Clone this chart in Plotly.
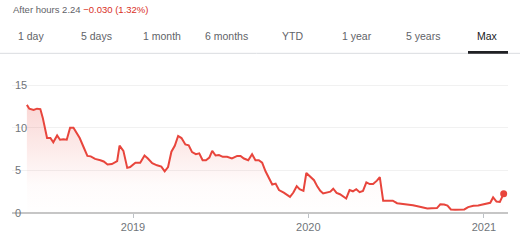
import plotly.graph_objects as go

# ---- data ----
DATES = [
    "2018-05-25", "2018-05-30", "2018-06-08", "2018-06-15", "2018-06-22", "2018-06-27",
    "2018-07-06", "2018-07-13", "2018-07-19", "2018-07-27", "2018-08-02", "2018-08-09",
    "2018-08-16", "2018-08-23", "2018-08-30", "2018-09-12", "2018-09-20", "2018-09-28",
    "2018-10-05", "2018-10-14", "2018-10-25", "2018-11-01", "2018-11-09", "2018-11-18",
    "2018-11-29", "2018-12-04", "2018-12-12", "2018-12-20", "2018-12-26",
    "2019-01-06", "2019-01-16", "2019-01-25", "2019-02-01", "2019-02-10", "2019-02-20",
    "2019-03-01", "2019-03-08", "2019-03-15", "2019-03-22", "2019-03-29", "2019-04-05",
    "2019-04-12", "2019-04-20", "2019-04-27", "2019-05-04", "2019-05-12", "2019-05-19",
    "2019-05-26", "2019-06-02", "2019-06-09", "2019-06-15", "2019-06-22", "2019-06-29",
    "2019-07-07", "2019-07-16", "2019-07-26", "2019-08-06", "2019-08-13", "2019-08-20",
    "2019-08-29", "2019-09-06", "2019-09-13", "2019-09-20", "2019-09-27", "2019-10-04",
    "2019-10-11", "2019-10-18", "2019-10-25", "2019-11-01", "2019-11-11", "2019-11-24",
    "2019-12-01", "2019-12-08", "2019-12-14", "2019-12-22", "2019-12-28",
    "2020-01-04", "2020-01-13", "2020-01-20", "2020-01-26", "2020-02-01", "2020-02-09",
    "2020-02-16", "2020-02-22", "2020-02-29", "2020-03-07", "2020-03-14", "2020-03-20",
    "2020-03-27", "2020-04-03", "2020-04-10", "2020-04-17", "2020-04-24", "2020-05-01",
    "2020-05-08", "2020-05-15", "2020-05-23", "2020-05-29", "2020-06-05", "2020-06-13",
    "2020-06-25", "2020-07-04", "2020-07-14", "2020-07-24", "2020-08-06", "2020-08-18",
    "2020-08-28", "2020-09-05", "2020-09-14", "2020-09-25", "2020-10-02", "2020-10-10",
    "2020-10-17", "2020-10-24", "2020-11-02", "2020-11-12", "2020-11-21", "2020-11-29",
    "2020-12-10", "2020-12-20", "2020-12-29", "2021-01-07", "2021-01-14", "2021-01-20",
    "2021-01-27", "2021-02-03", "2021-02-11",
]
PRICES = [
    12.7, 12.25, 12.1, 12.25, 12.2, 11.2,
    8.8, 8.8, 8.3, 9.1, 8.6, 8.65,
    8.6, 10.0, 10.0, 8.8, 7.75, 6.7,
    6.65, 6.35, 6.2, 6.05, 5.7, 5.75,
    6.1, 7.9, 7.3, 5.3, 5.4,
    5.9, 5.9, 6.75, 6.4, 5.85, 5.6,
    5.45, 4.9, 5.4, 7.2, 7.9, 9.05,
    8.8, 8.05, 7.95, 7.15, 6.9, 7.0,
    6.2, 6.2, 6.5, 7.3, 6.75, 6.8,
    6.6, 6.6, 6.4, 6.7, 6.7, 6.4,
    6.2, 6.9, 6.2, 6.2, 5.9, 4.9,
    4.1, 3.35, 3.45, 2.7, 2.4, 1.9,
    2.4, 3.15, 2.8, 2.6, 4.7,
    4.3, 3.85, 3.1, 2.6, 2.3, 2.4,
    2.5, 2.85, 2.35, 2.2, 1.9, 1.7,
    2.7, 2.55, 2.8, 2.45, 2.6, 3.6,
    3.4, 3.4, 3.8, 4.2, 1.45, 1.45,
    1.45, 1.15, 1.07, 1.07, 0.92, 0.77,
    0.6, 0.53, 0.57, 0.58, 1.03, 1.0,
    0.88, 0.42, 0.38, 0.38, 0.42, 0.69,
    0.84, 0.88, 1.0, 1.1, 1.2, 1.83,
    1.34, 1.3, 2.27,
]
Y_TICKS = [0, 5, 10, 15]
TABS = ["1 day", "5 days", "1 month", "6 months", "YTD", "1 year", "5 years", "Max"]
ACTIVE_TAB = "Max"
HEADER_PREFIX = "After hours 2.24 "
HEADER_CHANGE = "\u22120.030 (1.32%)"

# ---- styling ----
RED = "#e8453c"
GRAY_TXT = "#70757a"
FONT = "Arial, 'Liberation Sans', sans-serif"
W, H = 520, 245
L, R, T, B = 12, 508, 81, 217


def px(x):
    return (x - L) / (R - L)


def py(y):
    return (B - y) / (B - T)


fig = go.Figure()
fig.add_trace(go.Scatter(
    x=DATES, y=PRICES, mode="lines",
    line=dict(color=RED, width=2),
    fill="tozeroy",
    fillgradient=dict(
        type="vertical", start=0, stop=13,
        colorscale=[[0, "rgba(232,69,60,0)"], [0.28, "rgba(232,69,60,0.02)"],
                    [1, "rgba(232,69,60,0.22)"]],
    ),
    hoverinfo="skip", showlegend=False,
))
fig.add_trace(go.Scatter(
    x=DATES[-1:], y=PRICES[-1:], mode="markers",
    marker=dict(color=RED, size=7),
    hoverinfo="skip", showlegend=False,
))

shapes = []
# white boxes behind the y tick labels
for v in Y_TICKS:
    wpx = 13 if v >= 10 else 5.5
    shapes.append(dict(type="rect", layer="between", xref="paper", yref="y",
                       xsizemode="pixel", xanchor=0, x0=-1, x1=wpx,
                       ysizemode="pixel", yanchor=v, y0=-6, y1=6,
                       fillcolor="white", line=dict(width=0)))
# tab separator line and active tab underline
shapes.append(dict(type="line", xref="paper", yref="paper",
                   x0=px(0), x1=px(520), y0=py(52.5), y1=py(52.5),
                   line=dict(color="#dadce0", width=1)))
shapes.append(dict(type="rect", xref="paper", yref="paper",
                   x0=px(468), x1=px(508), y0=py(53), y1=py(50),
                   fillcolor="#202124", line=dict(width=0)))

annotations = [dict(
    text=HEADER_PREFIX + "<span style='color:#d93025'>" + HEADER_CHANGE + "</span>",
    xref="paper", yref="paper", x=px(11), y=py(7.5), xanchor="left", yanchor="middle",
    showarrow=False, font=dict(family=FONT, size=9.5, color="#5f6368"),
)]
for i, t in enumerate(TABS):
    annotations.append(dict(
        text=t, xref="paper", yref="paper", x=px(31.3 + 65.2 * i), y=py(35),
        xanchor="center", yanchor="middle", showarrow=False,
        font=dict(family=FONT, size=10.5,
                  color="#202124" if t == ACTIVE_TAB else "#5f6368"),
    ))

fig.update_layout(
    width=W, height=H,
    margin=dict(l=L, r=W - R, t=T, b=H - B, pad=0),
    paper_bgcolor="white", plot_bgcolor="white",
    font=dict(family=FONT, size=11, color=GRAY_TXT),
    shapes=shapes, annotations=annotations,
    showlegend=False,
    xaxis=dict(
        type="date", range=["2018-04-24", "2021-02-20"],
        showgrid=False, zeroline=False, showline=False,
        ticks="outside", ticklen=4, tickwidth=1, tickcolor="#bdc1c6",
        dtick="M12", tick0="2019-01-01", tickformat="%Y",
        tickfont=dict(family=FONT, size=11, color=GRAY_TXT),
        fixedrange=True,
    ),
    yaxis=dict(
        range=[0, 15.5], tickvals=Y_TICKS,
        showgrid=True, gridcolor="#f1f1f1", gridwidth=1,
        zeroline=True, zerolinecolor="#c6c6c6", zerolinewidth=2,
        showline=False, ticks="",
        ticklabelposition="inside", ticklabeloverflow="allow",
        tickfont=dict(family=FONT, size=11, color=GRAY_TXT),
        fixedrange=True,
    ),
)

fig.write_html("out.html")
